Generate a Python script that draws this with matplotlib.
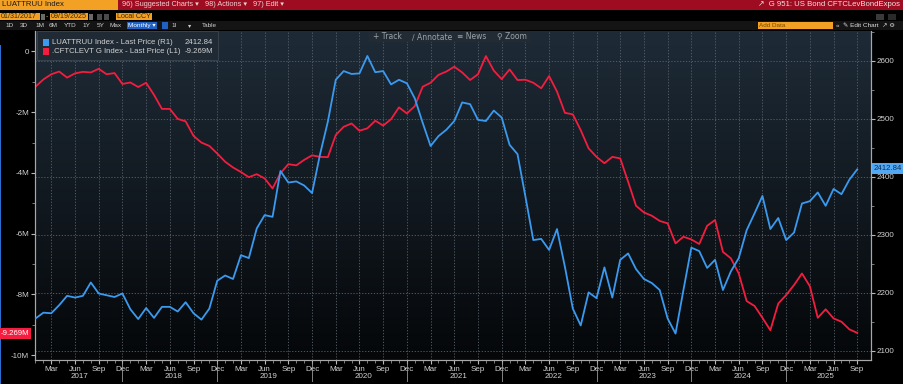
import numpy as np
import pandas as pd
import matplotlib
matplotlib.use("Agg")
import matplotlib.pyplot as plt
from matplotlib.patches import Rectangle
from matplotlib.lines import Line2D
import matplotlib.transforms as mtransforms

plt.rcParams['font.family'] = ['Liberation Sans Narrow', 'Liberation Sans', 'DejaVu Sans']

# ---------------- data ----------------
dates = pd.date_range('2017-01-31', periods=105, freq='ME')

cftc_lev_m = [
    -1.16, -0.92, -0.75, -0.66, -0.86, -0.72, -0.67, -0.69, -0.57, -0.75, -0.71, -1.07,
    -1.02, -1.17, -1.03, -1.43, -1.89, -1.89, -2.22, -2.30, -2.78, -3.00, -3.11, -3.36,
    -3.63, -3.82, -3.97, -4.14, -4.04, -4.18, -4.51, -4.01, -3.71, -3.75, -3.57, -3.42,
    -3.47, -3.48, -2.75, -2.48, -2.37, -2.61, -2.53, -2.28, -2.44, -2.23, -1.84, -2.04,
    -1.80, -1.16, -1.03, -0.77, -0.66, -0.50, -0.69, -0.94, -0.75, -0.15, -0.63, -0.91,
    -0.59, -0.94, -0.93, -1.03, -1.21, -0.81, -1.32, -2.02, -2.07, -2.59, -3.19, -3.47,
    -3.68, -3.47, -3.52, -4.29, -5.08, -5.30, -5.41, -5.58, -5.66, -6.32, -6.10, -6.19,
    -6.34, -5.74, -5.55, -6.60, -6.81, -7.31, -8.22, -8.38, -8.77, -9.18, -8.30, -8.02,
    -7.69, -7.31, -7.73, -8.77, -8.49, -8.79, -8.90, -9.15, -9.269,
]

luattruu = [
    2156, 2166, 2165, 2179, 2195, 2192, 2195, 2218, 2199, 2196, 2193, 2199,
    2172, 2155, 2174, 2157, 2176, 2176, 2168, 2184, 2165, 2154, 2173, 2221,
    2230, 2224, 2265, 2260, 2311, 2334, 2331, 2410, 2390, 2392, 2385, 2372,
    2438, 2495, 2567, 2582, 2577, 2578, 2608, 2580, 2582, 2559, 2567, 2561,
    2535, 2493, 2453, 2470, 2481, 2496, 2528, 2525, 2498, 2496, 2514, 2502,
    2455, 2439, 2366, 2291, 2293, 2274, 2310, 2245, 2173, 2144, 2201, 2191,
    2244, 2192, 2257, 2268, 2241, 2224, 2217, 2205, 2156, 2130, 2205, 2278,
    2272, 2243, 2257, 2205, 2237, 2260, 2308, 2337, 2367, 2310, 2329, 2291,
    2304, 2354, 2358, 2373, 2350, 2379, 2370, 2395, 2412.84,
]

left_ticks = [0, -2, -4, -6, -8, -10]
left_labels = ['0', '-2M', '-4M', '-6M', '-8M', '-10M']
right_ticks = [2100, 2200, 2300, 2400, 2500, 2600]
periods = ['1D', '3D', '1M', '6M', 'YTD', '1Y', '5Y', 'Max']

BLUE = '#3a9af0'
RED = '#f41d3f'
TXT = '#d2d2d2'

W, H = 904, 384
fig = plt.figure(figsize=(W / 100, H / 100), dpi=100, facecolor='black')


def frect(x0, y0, x1, y1, color, z=1):
    fig.patches.append(Rectangle((x0 / W, 1 - y1 / H), (x1 - x0) / W, (y1 - y0) / H,
                                 transform=fig.transFigure, facecolor=color,
                                 edgecolor='none', zorder=z))


def ftext(x, y, s, color=TXT, size=5.5, ha='left', **kw):
    fig.text(x / W, 1 - y / H, s, color=color, fontsize=size, ha=ha, va='center', **kw)


# ---------------- axes ----------------
x0, x1, ytop, ybot = 35.5, 870.7, 31, 360
ax = fig.add_axes([x0 / W, 1 - ybot / H, (x1 - x0) / W, (ybot - ytop) / H])
ax2 = ax.twinx()

x = np.arange(len(dates))

# gradient background
grad = np.linspace(0, 1, 256).reshape(-1, 1)
top = np.array([0x1e, 0x2b, 0x37]) / 255
bot = np.array([0x05, 0x07, 0x09]) / 255
img = top[None, None, :] * (1 - grad[:, :, None]) + bot[None, None, :] * grad[:, :, None]
ax.imshow(img, extent=[0, 1, 0, 1], transform=ax.transAxes, aspect='auto', zorder=0)

ax.plot(x, cftc_lev_m, color=RED, lw=1.3, zorder=3)
ax2.plot(x, luattruu, color=BLUE, lw=1.3, zorder=3)

ax.set_xlim(0, 105.7)
ax.set_ylim(-10.16, 0.675)
ax2.set_ylim(2084.5, 2651)

# x ticks: quarter months
qidx = [i for i, d in enumerate(dates) if d.month in (3, 6, 9, 12)]
ax.set_xticks(qidx)
ax.set_xticklabels([dates[i].strftime('%b') for i in qidx])
ax.set_xticks(x, minor=True)

ax.set_yticks(left_ticks)
ax.set_yticklabels(left_labels)
ax.set_yticks(np.arange(-10, 1, 1), minor=True)
ax2.set_yticks(right_ticks)
ax2.set_yticks(np.arange(2100, 2651, 50), minor=True)

for a in (ax, ax2):
    a.set_facecolor('none')
    for s in a.spines.values():
        s.set_color('#a8a8a8')
        s.set_linewidth(0.8)
    a.spines['top'].set_visible(False)
    a.tick_params(colors='#b8b8b8', labelcolor=TXT, labelsize=5.8, length=3, width=0.8)
    a.tick_params(which='minor', length=2, width=0.6, colors='#909090')
ax.tick_params(axis='x', pad=1.5)
ax.tick_params(axis='y', pad=1.5)
ax2.tick_params(axis='y', pad=1.5)

# grid
for i in qidx:
    ax.axvline(i, color='#5a636c', lw=0.6, ls=(0, (1.5, 2)), zorder=1)
for v in right_ticks:
    ax2.axhline(v, color='#5a636c', lw=0.6, ls=(0, (1.5, 2)), zorder=1)

# year labels and separators
tr = mtransforms.blended_transform_factory(ax.transData, fig.transFigure)
years = sorted(set(d.year for d in dates))
for yv in years:
    idx = [i for i, d in enumerate(dates) if d.year == yv]
    ax.text((idx[0] + idx[-1]) / 2, 1 - 376 / H, str(yv), transform=tr,
            ha='center', va='center', color=TXT, fontsize=5.8, clip_on=False)
    if yv != years[-1]:
        fig.lines.append(Line2D([idx[-1], idx[-1]], [1 - 362 / H, 1 - 381 / H],
                                transform=tr, color='#9a9a9a', lw=0.6))

# legend box
ax.add_patch(Rectangle((37 / W, 1 - 60 / H), (218 - 37) / W, (60 - 31) / H,
                       transform=fig.transFigure, facecolor='#1f2a34',
                       edgecolor='#3c4650', lw=0.6, zorder=6))
frect(43, 39, 49.5, 45.5, BLUE, z=7)
frect(43, 48.5, 49.5, 55, RED, z=7)
ftext(52, 42.3, 'LUATTRUU Index - Last Price (R1)', size=5.6, zorder=8)
ftext(213, 42.3, f'{luattruu[-1]:.2f}', size=5.6, ha='right', zorder=8)
ftext(52, 51.7, '.CFTCLEVT G Index - Last Price (L1)', size=5.6, zorder=8)
ftext(213, 51.7, f'{cftc_lev_m[-1]:.3f}M', size=5.6, ha='right', zorder=8)

# Track / Annotate / News / Zoom buttons
frect(369, 31, 530, 42, '#222b33', z=5)
for xs, s in [(373, '+ Track'), (412, '\u2215 Annotate'), (457, '\u2261 News'), (497, '\u26b2 Zoom')]:
    fig.text(xs / W, 1 - 36.5 / H, s, color='#9aa2aa', fontsize=5.5, ha='left',
             va='center', zorder=6, family=['Liberation Sans Narrow', 'DejaVu Sans'])

# value callouts
ftext(1, 333.5, f'{cftc_lev_m[-1]:.3f}M', color='white', size=5.6,
      bbox=dict(boxstyle='square,pad=0.25', fc=RED, ec='none'))
ftext(874, 168.5, f'{luattruu[-1]:.2f}', color='#0b2d55', size=5.6,
      bbox=dict(boxstyle='square,pad=0.25', fc='#52a8f2', ec='none'))

# ---------------- top toolbars ----------------
frect(0, 0, 118, 9.5, '#f2a125')
frect(118, 0, 904, 9.5, '#9d0c20')
ftext(2, 5, 'LUATTRUU Index', color='#1a1a1a', size=5.6)
ftext(122, 5, '96) Suggested Charts \u25be', color='#f0d0d0', size=5.3)
ftext(205, 5, '98) Actions \u25be', color='#f0d0d0', size=5.3)
ftext(253, 5, '97) Edit \u25be', color='#f0d0d0', size=5.3)
ftext(900, 5, '\u2197  G 951: US Bond CFTCLevBondExpos', color='#f3e0e0', size=5.6, ha='right')

frect(0, 13, 40, 20, '#f2a125')
ftext(1, 16.5, '01/31/2017', color='#3a2a00', size=5.1)
frect(41, 13.5, 45, 19.5, '#6a6a6a')
ftext(46, 16.5, '-', color='#d0a030', size=5.1)
frect(50, 13, 88, 20, '#f2a125')
ftext(51, 16.5, '09/19/2025', color='#3a2a00', size=5.1)
frect(89, 13.5, 93, 19.5, '#6a6a6a')
frect(97, 13.5, 102, 19.5, '#4a4a4a')
frect(104, 13.5, 109, 19.5, '#4a4a4a')
frect(116, 13, 152, 20, '#f2a125')
ftext(117, 16.5, 'Local CCY', color='#3a2a00', size=5.1)
frect(876, 13.5, 884, 19.5, '#3a3a3a')
frect(888, 13.5, 896, 19.5, '#2a2a2a')

frect(0, 21, 904, 30, '#141414')
for px, s in zip([5, 20, 35, 49, 64, 82, 97, 110], periods):
    ftext(px, 25.5, s, color='#d0d0d0', size=4.6)
frect(127, 22, 157, 29, '#2061c4')
ftext(128.5, 25.5, 'Monthly \u25be', color='white', size=4.6)
frect(162, 22, 168, 29, '#2061c4')
ftext(171, 25.5, '1I', color='#d0d0d0', size=4.6)
ftext(188, 25.5, '\u25be', color='#d0d0d0', size=4.6)
ftext(202, 25.5, 'Table', color='#d0d0d0', size=4.6)
frect(758, 22, 833, 29, '#f2a125')
ftext(759, 25.5, 'Add Data', color='#7a4a00', size=4.6)
ftext(836, 25.5, '\u00ab  \u270e Edit Chart  \u2197 \u2699', color='#e0e0e0', size=4.6)

# left window border
frect(0, 45, 1.5, 384, '#2a6fd0')

fig.savefig('out.png', dpi=100, facecolor='black')
